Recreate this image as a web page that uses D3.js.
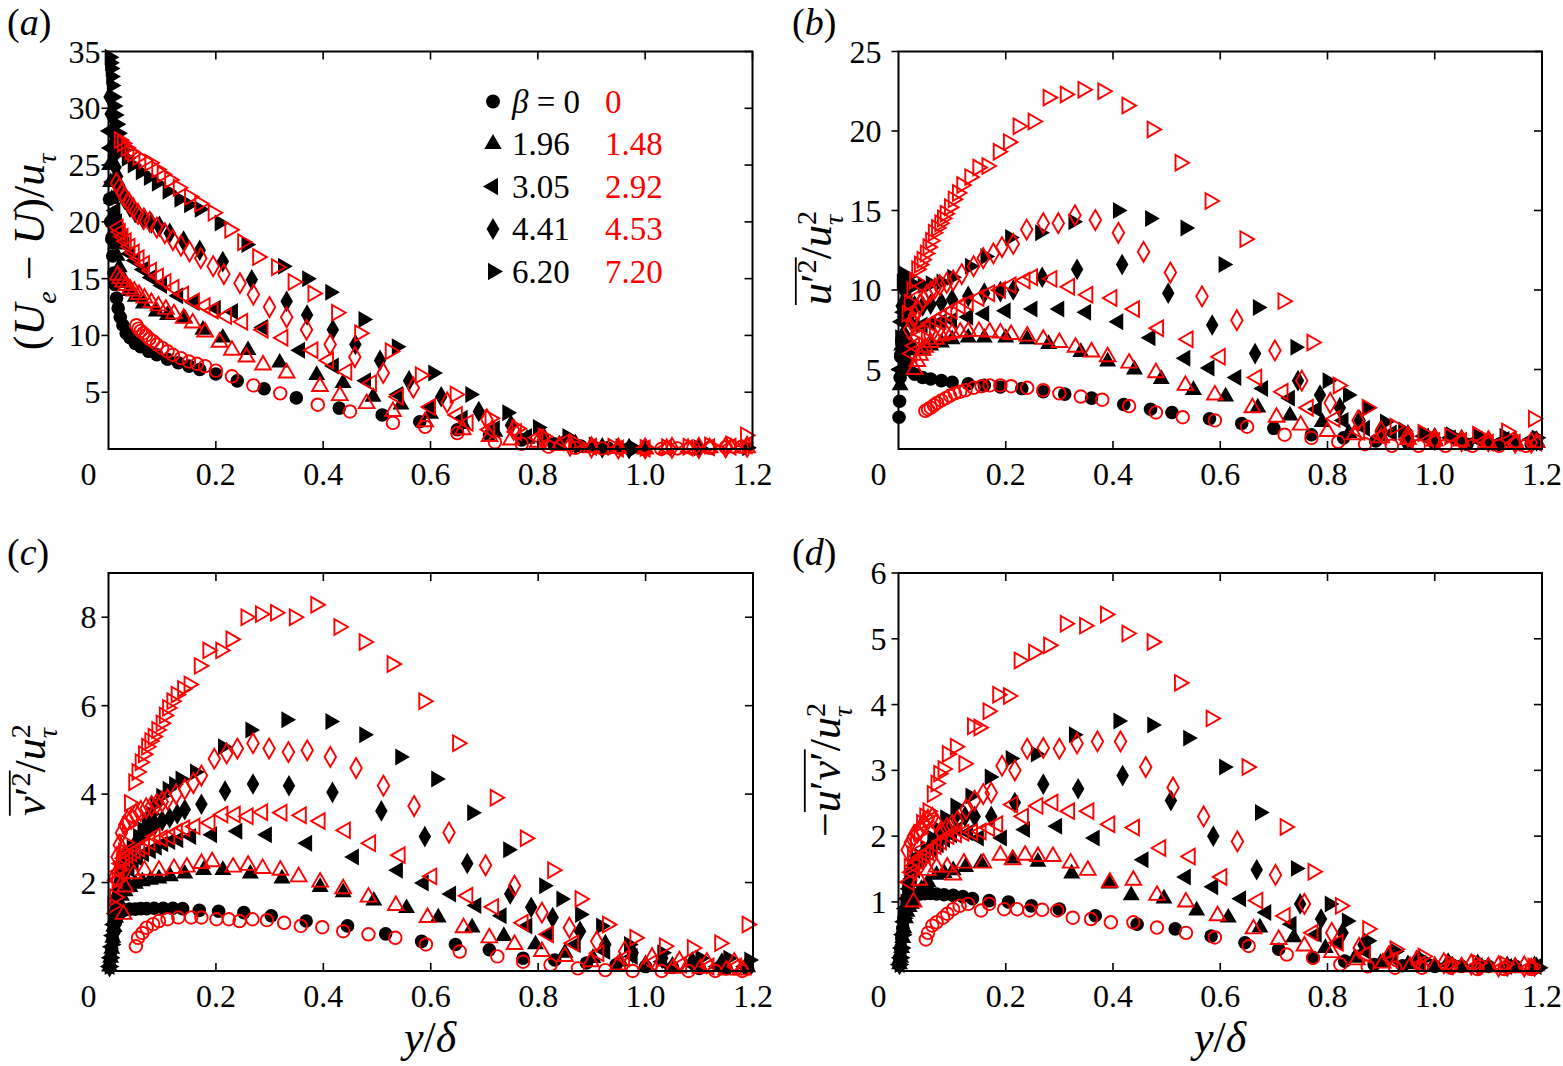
<!DOCTYPE html>
<html>
<head>
<meta charset="utf-8">
<script src="https://cdn.jsdelivr.net/npm/d3@7"></script>
<style>
  body { margin: 0; background: #fff; }
  svg { display: block; }
</style>
</head>
<body>
<svg id="fig" width="1563" height="1066" font-family="'Liberation Serif', 'Times New Roman', serif"></svg>
<script>
// ---------- data: y/delta (x) and the quantity (y) ----------
// k = black filled symbols (beta = 0, 1.96, 3.05, 4.41, 6.20)
// r = red open symbols   (beta = 0, 1.48, 2.92, 4.53, 7.20)

// (a) (Ue - U)/u_tau
const a_k0_x = [0.002,0.004,0.006,0.008,0.010,0.012,0.015,0.018,0.022,0.027,0.033,0.04,0.05,0.06,0.075,0.09,0.11,0.13,0.15,0.17,0.2,0.24,0.29,0.35,0.43,0.51,0.58,0.65,0.71,0.77,0.83,0.88,0.93,0.97,1.0];
const a_k0_y = [22,20,18.5,17,15.5,14.5,13.3,12.4,11.6,10.9,10.2,9.8,9.3,9.0,8.6,8.3,7.9,7.6,7.3,7.0,6.6,6.0,5.3,4.5,3.6,3.0,2.4,1.7,1.2,0.8,0.45,0.25,0.1,0.05,0.02];
const a_r0_x = [0.052,0.056,0.06,0.065,0.07,0.076,0.083,0.09,0.1,0.11,0.12,0.135,0.15,0.165,0.18,0.2,0.23,0.27,0.32,0.39,0.45,0.53,0.59,0.65,0.72,0.77,0.82,0.87,0.92,1.0,1.03,1.06,1.09,1.12,1.15,1.18];
const a_r0_y = [10.9,10.6,10.4,10.2,10.0,9.7,9.5,9.2,8.9,8.6,8.3,8.0,7.7,7.5,7.3,6.9,6.4,5.6,4.9,3.9,3.3,2.3,1.95,1.4,0.6,0.45,0.2,0.1,0.05,0,0,0.05,0.1,0.1,0.15,0.2];
const a_k1_x = [0.002,0.004,0.006,0.008,0.01,0.013,0.016,0.02,0.025,0.03,0.04,0.05,0.065,0.089,0.11,0.142,0.176,0.213,0.26,0.319,0.388,0.437,0.493,0.545,0.6,0.66,0.72,0.78,0.84,0.9,0.95,1.0];
const a_k1_y = [25,23.5,22,20.5,19.2,18,17,16,15.2,14.6,13.9,13.4,12.8,12.1,11.8,11.5,10.5,9.8,8.7,7.6,6.5,5.8,4.6,3.9,3.1,2.2,1.5,0.9,0.4,0.15,0.05,0.02];
const a_r1_x = [0.017,0.022,0.027,0.033,0.04,0.048,0.057,0.067,0.08,0.093,0.107,0.122,0.14,0.157,0.18,0.207,0.23,0.257,0.288,0.332,0.394,0.431,0.481,0.53,0.59,0.66,0.71,0.75,0.8,0.84,0.9,0.95,1.0,1.04,1.08,1.12,1.16,1.19];
const a_r1_y = [15.3,15.0,14.7,14.4,14.1,13.9,13.6,13.3,12.9,12.6,12.3,11.9,11.5,11.1,10.3,9.4,8.7,8.1,7.4,6.7,5.5,4.7,4.0,3.3,2.4,1.7,1.1,0.8,0.6,0.3,0.1,0.05,0,0.05,0.05,0.1,0.1,0.1];
const a_k2_x = [0.002,0.004,0.006,0.008,0.01,0.013,0.016,0.02,0.025,0.03,0.04,0.05,0.065,0.08,0.1,0.13,0.16,0.2,0.232,0.288,0.357,0.42,0.48,0.54,0.6,0.66,0.72,0.78,0.84,0.9,0.95,1.0];
const a_k2_y = [28,26.5,25,23.5,22.3,21,20,19.2,18.5,18,17.2,16.6,15.8,15.1,14.4,13.5,12.9,12.4,12.1,10.7,8.7,7.3,6.0,4.8,3.7,2.7,1.8,1.1,0.5,0.2,0.05,0.02];
const a_r2_x = [0.018,0.022,0.027,0.033,0.04,0.048,0.057,0.067,0.08,0.093,0.107,0.122,0.14,0.16,0.18,0.195,0.22,0.25,0.288,0.325,0.381,0.41,0.444,0.49,0.54,0.6,0.65,0.67,0.71,0.76,0.8,0.85,0.9,0.95,1.0,1.04,1.08,1.12,1.16,1.19];
const a_r2_y = [19.5,19.1,18.7,18.3,17.8,17.3,16.8,16.3,15.7,15.2,14.7,14.2,13.6,13.0,12.6,12.2,11.7,11.2,10.5,9.8,8.7,7.8,6.8,5.8,4.6,3.7,3.0,2.3,1.7,1.5,1.0,0.6,0.2,0.05,0.05,0.1,0.1,0.15,0.2,0.3];
const a_k3_x = [0.002,0.004,0.006,0.008,0.01,0.013,0.016,0.02,0.025,0.03,0.04,0.05,0.065,0.08,0.095,0.114,0.14,0.17,0.213,0.267,0.332,0.37,0.418,0.46,0.506,0.56,0.62,0.69,0.75,0.81,0.87,0.92,0.97,1.1];
const a_k3_y = [31,29.5,28,26.8,25.8,24.8,24,23.2,22.6,22,21.3,20.8,20.2,19.9,19.6,19.0,18.3,17.5,16.5,14.9,13.0,11.8,10.5,9.2,7.8,6.0,4.6,3.3,2.1,1.1,0.4,0.1,0.03,0.05];
const a_r3_x = [0.015,0.02,0.025,0.03,0.038,0.046,0.055,0.066,0.077,0.09,0.105,0.12,0.135,0.151,0.172,0.195,0.215,0.245,0.27,0.3,0.332,0.369,0.413,0.459,0.512,0.568,0.631,0.705,0.755,0.81,0.86,0.9,0.95,1.0,1.05,1.1,1.15,1.19];
const a_r3_y = [23.4,23.0,22.6,22.2,21.7,21.2,20.7,20.3,20.0,19.5,19.0,18.4,17.9,17.4,16.8,16.1,15.4,14.6,13.6,12.5,11.6,10.5,9.2,8.1,6.7,5.4,4.1,2.6,1.7,0.8,0.3,0.15,0.05,0.05,0.1,0.1,0.15,0.2];
const a_k4_x = [0.002,0.003,0.004,0.005,0.006,0.008,0.01,0.012,0.015,0.018,0.022,0.027,0.034,0.045,0.06,0.075,0.09,0.11,0.132,0.15,0.17,0.207,0.257,0.325,0.37,0.413,0.475,0.537,0.605,0.674,0.743,0.8,0.855,0.904,0.954,0.98,1.1,1.19];
const a_k4_y = [34.5,34,33.5,32.8,32,31,30.2,29.4,28.6,27.8,27.0,26.3,25.6,25.0,24.4,23.9,23.4,22.7,22.0,21.5,21.1,19.9,18.0,16.1,15.0,13.8,11.4,9.0,6.7,4.8,3.2,1.9,1.1,0.35,0.2,0.05,0.1,0.1];
const a_r4_x = [0.02,0.026,0.033,0.04,0.045,0.055,0.066,0.077,0.09,0.1,0.114,0.13,0.151,0.17,0.195,0.226,0.25,0.278,0.313,0.344,0.381,0.425,0.468,0.525,0.581,0.646,0.711,0.761,0.81,0.87,0.94,1.0,1.04,1.08,1.12,1.16,1.187];
const a_r4_y = [27.2,26.9,26.5,26.2,26.0,25.7,25.4,25.2,24.6,24.2,23.7,23.0,22.2,21.6,20.8,19.3,18.2,16.9,16.0,14.7,13.7,12.0,10.2,8.6,6.5,4.8,2.7,1.8,1.1,0.5,0.2,0.1,0.15,0.2,0.3,0.4,1.2];

// (b) u'^2 / u_tau^2
const b_k0_x = [0.001,0.002,0.003,0.004,0.006,0.008,0.011,0.015,0.02,0.03,0.045,0.06,0.08,0.1,0.13,0.16,0.19,0.23,0.27,0.31,0.36,0.42,0.47,0.51,0.58,0.64,0.7,0.77,0.83,0.89,0.95,1.0,1.06,1.12,1.18];
const b_k0_y = [2.0,3.0,4.5,5.8,6.8,6.5,6.0,5.5,5.0,4.7,4.5,4.4,4.3,4.2,4.1,4.0,3.9,3.8,3.6,3.45,3.2,2.8,2.5,2.3,1.9,1.6,1.3,0.9,0.7,0.5,0.4,0.35,0.3,0.3,0.3];
const b_r0_x = [0.05,0.055,0.06,0.066,0.072,0.08,0.088,0.096,0.105,0.115,0.125,0.14,0.155,0.17,0.19,0.21,0.24,0.27,0.3,0.34,0.38,0.43,0.48,0.53,0.59,0.65,0.72,0.77,0.82,0.87,0.92,0.97,1.02,1.07,1.12,1.17];
const b_r0_y = [2.4,2.5,2.6,2.75,2.9,3.05,3.2,3.35,3.5,3.6,3.7,3.85,3.95,4.0,4.0,3.95,3.85,3.7,3.5,3.3,3.1,2.7,2.3,2.0,1.8,1.4,0.9,0.7,0.45,0.3,0.2,0.2,0.2,0.2,0.2,0.2];
const b_k1_x = [0.003,0.006,0.01,0.015,0.02,0.03,0.045,0.06,0.08,0.1,0.13,0.16,0.2,0.24,0.28,0.34,0.39,0.44,0.49,0.55,0.61,0.67,0.73,0.79,0.84,0.9,0.95,1.0,1.05,1.1,1.15,1.19];
const b_k1_y = [4,6.5,7.3,7.0,6.5,6.2,6.3,6.5,6.7,6.9,7.0,7.0,7.0,6.9,6.6,6.1,5.5,5.0,4.4,3.7,3.3,2.6,2.1,1.7,1.0,0.8,0.7,0.6,0.55,0.5,0.5,0.5];
const b_r1_x = [0.03,0.035,0.04,0.045,0.05,0.06,0.07,0.08,0.09,0.1,0.115,0.13,0.15,0.17,0.19,0.21,0.24,0.27,0.3,0.33,0.36,0.39,0.43,0.48,0.535,0.59,0.66,0.705,0.75,0.8,0.85,0.9,0.95,1.0,1.05,1.1,1.15,1.19];
const b_r1_y = [5.0,5.5,5.9,6.2,6.4,6.7,6.9,7.1,7.2,7.3,7.35,7.4,7.4,7.35,7.3,7.2,7.1,6.9,6.7,6.4,6.1,5.8,5.4,4.8,4.0,3.4,2.6,2.0,1.5,1.1,0.9,0.7,0.6,0.5,0.5,0.4,0.4,0.4];
const b_k2_x = [0.003,0.006,0.01,0.015,0.02,0.03,0.045,0.06,0.08,0.1,0.13,0.16,0.2,0.25,0.3,0.35,0.41,0.47,0.535,0.58,0.63,0.68,0.73,0.78,0.83,0.87,0.92,0.98,1.03,1.08,1.13,1.18];
const b_k2_y = [5,8,8.6,8.3,8.0,7.8,7.8,7.9,8.0,8.1,8.3,8.5,8.7,8.8,8.8,8.6,8.0,7.0,5.7,5.1,4.5,3.8,3.2,2.5,1.8,1.3,1.0,0.8,0.7,0.6,0.6,0.6];
const b_r2_x = [0.025,0.03,0.035,0.04,0.05,0.06,0.07,0.08,0.09,0.1,0.115,0.13,0.15,0.17,0.19,0.21,0.236,0.25,0.286,0.319,0.353,0.398,0.44,0.485,0.54,0.6,0.668,0.717,0.764,0.814,0.86,0.9,0.95,1.0,1.05,1.1,1.15,1.19];
const b_r2_y = [6.0,6.5,7.0,7.3,7.6,7.9,8.1,8.3,8.5,8.7,9.0,9.2,9.5,9.8,10.0,10.3,10.6,10.8,10.7,10.2,9.7,9.5,8.8,7.6,6.9,5.8,4.5,3.6,2.6,1.9,1.1,0.8,0.6,0.5,0.5,0.4,0.4,0.4];
const b_k3_x = [0.003,0.006,0.01,0.015,0.02,0.03,0.045,0.06,0.08,0.1,0.13,0.16,0.19,0.214,0.268,0.333,0.417,0.503,0.585,0.665,0.745,0.786,0.823,0.86,0.9,0.95,1.0,1.05,1.1,1.15,1.19];
const b_k3_y = [6,9,10,9.6,9.2,9.0,9.0,9.1,9.2,9.4,9.6,9.8,9.9,10.0,10.8,11.3,11.6,9.8,7.8,6.0,4.3,3.4,2.6,1.8,1.2,0.9,0.7,0.6,0.5,0.5,0.5];
const b_r3_x = [0.02,0.025,0.03,0.035,0.04,0.046,0.053,0.06,0.068,0.077,0.09,0.102,0.118,0.14,0.158,0.177,0.193,0.214,0.239,0.27,0.298,0.329,0.367,0.41,0.457,0.507,0.566,0.631,0.702,0.752,0.805,0.857,0.9,0.95,1.0,1.05,1.1,1.15,1.18];
const b_r3_y = [7.5,8.0,8.4,8.8,9.1,9.4,9.7,9.9,10.1,10.3,10.45,10.6,11.0,11.5,12.0,12.3,12.7,12.9,13.8,14.2,14.2,14.7,14.4,13.6,12.4,11.1,9.6,8.1,6.2,4.3,2.9,1.8,1.1,0.8,0.6,0.5,0.5,0.4,0.4];
const b_k4_x = [0.003,0.006,0.01,0.015,0.02,0.03,0.045,0.06,0.08,0.1,0.133,0.162,0.208,0.264,0.326,0.409,0.469,0.535,0.606,0.67,0.74,0.8,0.838,0.874,0.907,0.941,0.98,1.03,1.08,1.13,1.19];
const b_k4_y = [7,10.5,11.0,10.8,10.5,10.3,10.3,10.4,10.5,10.8,11.5,12.1,13.3,13.6,14.3,15.0,14.5,13.9,11.6,8.9,6.4,4.3,3.4,2.6,1.7,1.2,1.0,0.9,0.8,0.8,0.7];
const b_r4_x = [0.016,0.02,0.025,0.03,0.034,0.039,0.044,0.05,0.055,0.06,0.065,0.071,0.077,0.082,0.087,0.095,0.102,0.11,0.118,0.133,0.148,0.165,0.186,0.205,0.223,0.251,0.279,0.311,0.344,0.381,0.426,0.473,0.525,0.581,0.646,0.717,0.771,0.82,0.874,0.926,0.978,1.028,1.08,1.134,1.184];
const b_r4_y = [8.5,9.2,10.0,10.6,11.3,11.6,11.9,12.3,12.7,13.1,13.6,13.9,14.2,14.5,14.8,15.2,15.7,16.1,16.6,17.1,17.7,17.8,18.7,19.3,20.3,20.6,22.1,22.3,22.6,22.5,21.6,20.1,18.0,15.6,13.2,9.3,6.7,4.0,2.6,1.4,1.0,0.8,0.9,1.1,1.9];

// (c) v'^2 / u_tau^2
const c_k0_x = [0.002,0.004,0.006,0.008,0.01,0.013,0.016,0.02,0.025,0.03,0.039,0.05,0.06,0.071,0.085,0.102,0.12,0.138,0.169,0.205,0.252,0.303,0.368,0.445,0.516,0.583,0.646,0.709,0.772,0.831,0.89,0.945,1.0,1.05,1.1,1.15,1.19];
const c_k0_y = [0.1,0.3,0.5,0.7,0.9,1.1,1.22,1.3,1.35,1.38,1.4,1.4,1.41,1.41,1.42,1.42,1.42,1.41,1.37,1.35,1.32,1.25,1.13,1.02,0.84,0.67,0.6,0.48,0.29,0.25,0.18,0.14,0.1,0.08,0.06,0.05,0.05];
const c_r0_x = [0.051,0.055,0.063,0.071,0.083,0.094,0.11,0.13,0.154,0.173,0.201,0.224,0.244,0.268,0.295,0.327,0.358,0.398,0.437,0.484,0.534,0.591,0.654,0.724,0.772,0.823,0.874,0.925,0.976,1.03,1.08,1.13,1.18];
const c_r0_y = [0.56,0.75,0.86,0.98,1.06,1.13,1.17,1.21,1.21,1.21,1.17,1.17,1.13,1.17,1.15,1.09,1.02,0.99,0.9,0.83,0.75,0.6,0.44,0.33,0.21,0.14,0.06,0.02,0,0,0,0,0];
const c_k1_x = [0.002,0.004,0.006,0.008,0.01,0.013,0.016,0.02,0.024,0.031,0.04,0.05,0.063,0.078,0.094,0.115,0.142,0.177,0.213,0.264,0.323,0.394,0.437,0.494,0.555,0.614,0.677,0.736,0.795,0.85,0.902,0.953,1.0,1.05,1.1,1.15,1.19];
const c_k1_y = [0.1,0.3,0.5,0.75,1.0,1.2,1.4,1.55,1.7,1.8,1.9,1.97,2.03,2.06,2.09,2.14,2.2,2.28,2.28,2.2,2.09,1.9,1.78,1.59,1.42,1.21,0.98,0.79,0.6,0.41,0.29,0.21,0.15,0.12,0.1,0.08,0.08];
const c_r1_x = [0.028,0.031,0.047,0.067,0.094,0.122,0.146,0.173,0.193,0.232,0.26,0.287,0.32,0.354,0.394,0.437,0.484,0.535,0.594,0.661,0.709,0.756,0.807,0.85,0.898,0.949,1.0,1.051,1.102,1.15,1.181];
const c_r1_y = [1.28,1.9,2.2,2.28,2.28,2.32,2.35,2.43,2.47,2.35,2.39,2.32,2.28,2.13,2.01,1.86,1.67,1.48,1.21,0.98,0.75,0.6,0.44,0.33,0.21,0.14,0.1,0.06,0.06,0.02,0.02];
const c_k2_x = [0.002,0.004,0.006,0.008,0.01,0.013,0.016,0.02,0.025,0.031,0.039,0.047,0.055,0.066,0.079,0.09,0.102,0.115,0.13,0.154,0.193,0.24,0.295,0.37,0.457,0.539,0.587,0.638,0.685,0.732,0.78,0.819,0.87,0.925,0.976,1.031,1.087,1.134,1.185];
const c_k2_y = [0.1,0.3,0.55,0.8,1.05,1.3,1.5,1.7,1.9,2.1,2.3,2.45,2.55,2.65,2.72,2.8,2.88,2.93,2.97,3.04,3.08,3.16,3.08,2.89,2.58,2.28,1.99,1.74,1.48,1.25,1.02,0.83,0.6,0.44,0.33,0.21,0.14,0.1,0.1];
const c_r2_x = [0.016,0.02,0.024,0.03,0.036,0.043,0.05,0.058,0.067,0.077,0.087,0.1,0.114,0.128,0.142,0.161,0.189,0.213,0.236,0.26,0.287,0.323,0.359,0.394,0.441,0.488,0.543,0.602,0.669,0.717,0.772,0.819,0.866,0.913,0.961,1.012,1.067,1.118,1.169];
const c_r2_y = [2.05,2.25,2.43,2.55,2.62,2.66,2.72,2.77,2.81,2.92,3.04,3.0,3.04,3.15,3.23,3.27,3.35,3.54,3.54,3.5,3.59,3.58,3.52,3.39,3.18,2.89,2.62,2.14,1.7,1.45,1.09,0.83,0.63,0.4,0.29,0.18,0.14,0.1,0.1];
const c_k3_x = [0.002,0.004,0.006,0.008,0.01,0.013,0.016,0.02,0.025,0.031,0.039,0.047,0.055,0.063,0.075,0.087,0.1,0.114,0.128,0.142,0.173,0.217,0.269,0.336,0.417,0.508,0.589,0.668,0.748,0.787,0.827,0.878,0.925,0.976,1.031,1.087,1.142,1.189];
const c_k3_y = [0.1,0.3,0.55,0.8,1.1,1.4,1.7,2.0,2.3,2.5,2.7,2.81,2.95,3.08,3.2,3.31,3.4,3.46,3.55,3.65,3.77,4.07,4.23,4.19,4.04,3.62,3.04,2.43,1.74,1.44,1.21,0.9,0.6,0.41,0.29,0.21,0.18,0.14];
const c_r3_x = [0.012,0.016,0.02,0.024,0.03,0.035,0.043,0.051,0.06,0.07,0.08,0.09,0.1,0.11,0.126,0.142,0.158,0.173,0.197,0.22,0.24,0.269,0.299,0.335,0.37,0.413,0.461,0.512,0.569,0.634,0.702,0.756,0.807,0.858,0.909,0.961,1.012,1.063,1.114,1.165];
const c_r3_y = [2.13,2.58,2.85,3.12,3.3,3.4,3.45,3.55,3.62,3.68,3.73,3.78,3.83,3.88,4.0,4.11,4.25,4.42,4.8,4.92,5.03,5.15,5.03,4.95,4.99,4.84,4.59,4.19,3.73,3.13,2.39,1.93,1.32,0.98,0.67,0.44,0.29,0.21,0.18,0.18];
const c_k4_x = [0.002,0.004,0.006,0.008,0.01,0.013,0.016,0.02,0.025,0.031,0.037,0.043,0.055,0.063,0.071,0.079,0.087,0.098,0.11,0.122,0.134,0.161,0.213,0.264,0.331,0.413,0.476,0.543,0.61,0.677,0.744,0.811,0.843,0.878,0.917,0.969,1.031,1.102,1.154,1.193];
const c_k4_y = [0.1,0.3,0.6,0.9,1.2,1.5,1.8,2.1,2.35,2.55,2.68,2.78,3.04,3.2,3.39,3.55,3.77,3.95,4.11,4.22,4.34,4.5,5.07,5.45,5.68,5.64,5.34,4.84,4.34,3.58,2.74,1.93,1.63,1.28,1.02,0.6,0.41,0.29,0.29,0.25];
const c_r4_x = [0.008,0.012,0.016,0.02,0.024,0.028,0.031,0.035,0.039,0.047,0.053,0.059,0.065,0.071,0.077,0.083,0.09,0.098,0.104,0.11,0.118,0.126,0.138,0.15,0.169,0.185,0.209,0.228,0.256,0.283,0.311,0.346,0.386,0.429,0.476,0.528,0.587,0.65,0.72,0.776,0.827,0.878,0.929,0.98,1.035,1.087,1.138,1.189];
const c_r4_y = [1.48,1.67,2.05,2.3,2.47,2.7,2.9,3.3,3.8,4.27,4.5,4.72,4.9,5.07,5.2,5.3,5.45,5.6,5.78,5.95,6.1,6.25,6.38,6.48,6.9,7.25,7.25,7.5,8.0,8.07,8.1,8.0,8.28,7.78,7.44,6.94,6.1,5.15,3.92,3.0,2.28,1.63,1.05,0.75,0.56,0.52,0.63,1.05];

// (d) -u'v' / u_tau^2
const d_k0_x = [0.001,0.002,0.004,0.006,0.008,0.01,0.013,0.016,0.02,0.025,0.03,0.039,0.05,0.06,0.071,0.085,0.102,0.12,0.138,0.169,0.205,0.248,0.3,0.367,0.445,0.516,0.583,0.646,0.709,0.773,0.832,0.887,0.94,1.0,1.05,1.1,1.15,1.19];
const d_k0_y = [0.05,0.15,0.3,0.45,0.6,0.75,0.88,0.97,1.03,1.07,1.1,1.12,1.13,1.13,1.12,1.11,1.1,1.08,1.05,1.02,1.0,0.94,0.89,0.79,0.66,0.59,0.48,0.38,0.28,0.15,0.1,0.05,0.03,0.02,0.02,0.02,0.02,0.02];
const d_r0_x = [0.051,0.055,0.063,0.071,0.083,0.091,0.102,0.114,0.13,0.154,0.169,0.197,0.221,0.244,0.268,0.296,0.325,0.359,0.396,0.438,0.482,0.536,0.59,0.653,0.724,0.773,0.824,0.875,0.926,0.976,1.03,1.08,1.13,1.18];
const d_r0_y = [0.43,0.53,0.64,0.69,0.76,0.82,0.89,0.94,0.97,0.87,0.97,0.89,0.89,0.87,0.88,0.87,0.76,0.74,0.69,0.69,0.61,0.53,0.46,0.33,0.2,0.15,0.05,0.02,0,0,0,-0.02,-0.02,-0.02];
const d_k1_x = [0.002,0.004,0.006,0.008,0.01,0.013,0.016,0.02,0.024,0.028,0.035,0.043,0.055,0.071,0.085,0.102,0.125,0.154,0.213,0.26,0.323,0.393,0.434,0.495,0.556,0.615,0.674,0.737,0.796,0.851,0.899,0.95,1.0,1.05,1.1,1.15,1.19];
const d_k1_y = [0.05,0.15,0.3,0.45,0.6,0.75,0.85,0.92,0.97,1.0,1.1,1.2,1.3,1.41,1.44,1.48,1.53,1.59,1.66,1.61,1.43,1.28,1.1,1.05,0.87,0.76,0.61,0.46,0.3,0.15,0.07,0.05,0.03,0.02,0.02,0.02,0.02];
const d_r1_x = [0.028,0.039,0.055,0.071,0.091,0.102,0.122,0.158,0.19,0.213,0.236,0.26,0.288,0.321,0.353,0.394,0.438,0.482,0.536,0.595,0.662,0.709,0.757,0.808,0.855,0.903,0.954,1.0,1.05,1.1,1.15,1.18];
const d_r1_y = [1.0,1.33,1.48,1.53,1.53,1.41,1.59,1.59,1.71,1.64,1.71,1.69,1.69,1.59,1.48,1.3,1.33,1.1,1.0,0.79,0.59,0.43,0.33,0.23,0.12,0.07,0.02,0.02,0.01,0.01,0,0];
const d_k2_x = [0.002,0.004,0.006,0.008,0.01,0.013,0.016,0.02,0.025,0.031,0.039,0.05,0.063,0.075,0.087,0.1,0.11,0.13,0.15,0.193,0.236,0.296,0.366,0.457,0.536,0.587,0.639,0.686,0.733,0.78,0.82,0.871,0.922,0.974,1.025,1.08,1.135,1.19];
const d_k2_y = [0.05,0.15,0.3,0.5,0.7,0.9,1.05,1.2,1.35,1.48,1.64,1.72,1.79,1.87,1.95,2.02,2.1,2.05,1.97,1.97,2.1,2.15,1.97,1.64,1.38,1.23,1.05,0.84,0.66,0.51,0.38,0.25,0.15,0.07,0.05,0.03,0.02,0.02];
const d_r2_x = [0.02,0.025,0.03,0.036,0.043,0.05,0.056,0.063,0.07,0.08,0.094,0.108,0.122,0.138,0.154,0.17,0.185,0.213,0.233,0.26,0.288,0.319,0.355,0.394,0.44,0.489,0.544,0.603,0.67,0.721,0.773,0.82,0.871,0.922,0.974,1.025,1.076,1.127,1.178];
const d_r2_y = [1.3,1.45,1.55,1.62,1.68,1.72,1.76,1.79,1.85,1.92,2.0,2.03,2.05,2.06,2.07,2.12,2.18,2.48,2.3,2.46,2.51,2.38,2.38,2.18,2.13,1.82,1.69,1.38,1.02,0.79,0.53,0.38,0.2,0.12,0.05,0.02,0.02,0.01,0.01];
const d_k3_x = [0.002,0.004,0.006,0.008,0.01,0.013,0.016,0.02,0.025,0.031,0.039,0.047,0.059,0.07,0.079,0.09,0.106,0.124,0.142,0.173,0.217,0.27,0.335,0.418,0.508,0.587,0.668,0.749,0.788,0.828,0.867,0.918,0.97,1.025,1.08,1.135,1.186];
const d_k3_y = [0.05,0.15,0.3,0.5,0.7,0.9,1.07,1.25,1.4,1.52,1.64,1.72,1.84,1.93,2.0,2.15,2.3,2.3,2.3,2.3,2.51,2.79,2.72,2.92,2.54,2.0,1.49,0.97,0.74,0.53,0.35,0.2,0.12,0.07,0.05,0.02,0.02];
const d_r3_x = [0.016,0.022,0.028,0.035,0.041,0.047,0.055,0.063,0.071,0.079,0.09,0.1,0.11,0.126,0.142,0.158,0.173,0.193,0.217,0.24,0.27,0.3,0.333,0.371,0.414,0.461,0.512,0.569,0.632,0.703,0.757,0.808,0.859,0.914,0.966,1.017,1.068,1.119,1.167];
const d_r3_y = [1.79,1.9,2.0,2.05,2.1,2.2,2.25,2.28,2.2,2.07,2.12,2.17,2.23,2.41,2.54,2.64,2.66,3.07,3.0,3.33,3.34,3.33,3.41,3.44,3.44,3.05,2.74,2.3,1.92,1.41,0.97,0.53,0.3,0.17,0.1,0.07,0.05,0.02,0.02];
const d_k4_x = [0.002,0.004,0.006,0.008,0.01,0.013,0.016,0.02,0.025,0.031,0.039,0.05,0.063,0.075,0.087,0.106,0.134,0.17,0.209,0.256,0.327,0.41,0.473,0.54,0.607,0.674,0.741,0.804,0.836,0.875,0.926,0.978,1.033,1.088,1.143,1.194];
const d_k4_y = [0.05,0.15,0.3,0.5,0.75,1.0,1.2,1.4,1.55,1.65,1.69,1.8,1.97,2.1,2.28,2.46,2.61,2.9,3.18,3.25,3.54,3.75,3.69,3.49,3.05,2.36,1.51,0.97,0.71,0.41,0.25,0.12,0.07,0.05,0.02,0.0];
const d_r4_x = [0.02,0.026,0.032,0.038,0.043,0.049,0.055,0.063,0.07,0.075,0.083,0.091,0.106,0.122,0.138,0.15,0.167,0.185,0.205,0.225,0.252,0.28,0.311,0.347,0.386,0.426,0.473,0.524,0.583,0.65,0.721,0.773,0.824,0.875,0.926,0.978,1.029,1.08,1.131,1.183];
const d_r4_y = [1.53,1.72,1.9,2.05,2.2,2.3,2.38,2.64,2.8,2.95,3.02,3.25,3.36,3.1,3.67,3.65,3.9,4.15,4.13,4.67,4.79,4.9,5.23,5.2,5.37,5.08,4.95,4.33,3.79,3.05,2.14,1.46,0.94,0.59,0.28,0.17,0.07,0.07,0.05,0.02];

// legend and ticks
const shapes = ["circle", "up", "left", "diamond", "right"];
const betaBlack = ["0", "1.96", "3.05", "4.41", "6.20"];
const betaRed = ["0", "1.48", "2.92", "4.53", "7.20"];
const xTicks = [0.2, 0.4, 0.6, 0.8, 1.0, 1.2];

// ---------- layout ----------
const svg = d3.select("#fig");
const RED = "#ff0000";
const tickFont = 32;
const labelFont = 44;
const NB = "\u00A0"; // keeps spaces inside separate text pieces

const panels = [
  {id: "a", left: 108.5, right: 752.5, top: 51.5, bottom: 449, ydom: [0, 35], yticks: [5, 10, 15, 20, 25, 30, 35],
   gap: 8, letterX: 7, letterY: 35,
   k: [[a_k0_x, a_k0_y], [a_k1_x, a_k1_y], [a_k2_x, a_k2_y], [a_k3_x, a_k3_y], [a_k4_x, a_k4_y]],
   r: [[a_r0_x, a_r0_y], [a_r1_x, a_r1_y], [a_r2_x, a_r2_y], [a_r3_x, a_r3_y], [a_r4_x, a_r4_y]]},
  {id: "b", left: 898.5, right: 1542, top: 51.5, bottom: 449, ydom: [0, 25], yticks: [5, 10, 15, 20, 25],
   gap: 17, letterX: 792, letterY: 35,
   k: [[b_k0_x, b_k0_y], [b_k1_x, b_k1_y], [b_k2_x, b_k2_y], [b_k3_x, b_k3_y], [b_k4_x, b_k4_y]],
   r: [[b_r0_x, b_r0_y], [b_r1_x, b_r1_y], [b_r2_x, b_r2_y], [b_r3_x, b_r3_y], [b_r4_x, b_r4_y]]},
  {id: "c", left: 108.5, right: 753, top: 573, bottom: 971, ydom: [0, 9], yticks: [2, 4, 6, 8],
   gap: 12, letterX: 7, letterY: 565,
   k: [[c_k0_x, c_k0_y], [c_k1_x, c_k1_y], [c_k2_x, c_k2_y], [c_k3_x, c_k3_y], [c_k4_x, c_k4_y]],
   r: [[c_r0_x, c_r0_y], [c_r1_x, c_r1_y], [c_r2_x, c_r2_y], [c_r3_x, c_r3_y], [c_r4_x, c_r4_y]]},
  {id: "d", left: 898.5, right: 1542, top: 573, bottom: 971, ydom: [-0.05, 6], yticks: [1, 2, 3, 4, 5, 6],
   gap: 12, letterX: 792, letterY: 565,
   k: [[d_k0_x, d_k0_y], [d_k1_x, d_k1_y], [d_k2_x, d_k2_y], [d_k3_x, d_k3_y], [d_k4_x, d_k4_y]],
   r: [[d_r0_x, d_r0_y], [d_r1_x, d_r1_y], [d_r2_x, d_r2_y], [d_r3_x, d_r3_y], [d_r4_x, d_r4_y]]}
];

// marker path for a shape; triangles are rotated for left / right
const symType = {circle: d3.symbolCircle, up: d3.symbolTriangle, left: d3.symbolTriangle,
                 right: d3.symbolTriangle, diamond: d3.symbolDiamond};
const symSize = {circle: 145, up: 125, left: 125, right: 125, diamond: 135};
const symRot = {circle: 0, up: 0, left: -90, right: 90, diamond: 0};

function drawMarker(g, shape, x, y, filled, scale) {
  const s = symSize[shape] * (scale || 1) * (filled ? 1 : 0.85);
  g.append("path")
    .attr("d", d3.symbol(symType[shape], s)())
    .attr("transform", `translate(${x},${y}) rotate(${symRot[shape]})`)
    .attr("fill", filled ? "#000" : "none")
    .attr("stroke", filled ? "none" : RED)
    .attr("stroke-width", filled ? 0 : 1.9);
}

// text made of pieces (italic, sub, sup, stacked sup, overline), laid out left to right
function richText(parent, parts, fs) {
  const g = parent.append("g");
  let x = 0, lastStart = 0, lastEnd = 0;
  let ovStart = null, ovEnd = null;
  parts.forEach(p => {
    const small = p.sub || p.sup;
    const size = small ? fs * 0.64 : fs;
    const dy = p.sub ? fs * 0.28 : p.sup ? -fs * 0.33 : 0;
    const start = p.stack ? lastStart : x;
    const t = g.append("text")
      .attr("x", start).attr("y", dy)
      .attr("font-size", size)
      .attr("font-style", p.i ? "italic" : "normal")
      .attr("fill", p.color || "#000")
      .text(p.t.replace(/ /g, NB));
    const w = t.node().getComputedTextLength();
    const end = start + w;
    if (p.ov) {
      ovStart = ovStart === null ? start : Math.min(ovStart, start);
      ovEnd = ovEnd === null ? end : Math.max(ovEnd, end);
    }
    if (p.stack) { x = Math.max(lastEnd, end); }
    else { x = end; lastStart = start; lastEnd = end; }
  });
  if (ovStart !== null) {
    g.append("line").attr("x1", ovStart).attr("x2", ovEnd + 2)
      .attr("y1", -fs * 0.8).attr("y2", -fs * 0.8)
      .attr("stroke", "#000").attr("stroke-width", 1.8);
  }
  return {g: g, width: x};
}

// centre a rich text along its length; base = position of the baseline across it
function placeLabel(parts, fs, along, base, rotate) {
  const holder = svg.append("g");
  const rt = richText(holder, parts, fs);
  rt.g.attr("transform", `translate(${-rt.width / 2},0)`);
  holder.attr("transform", rotate ? `translate(${base},${along}) rotate(-90)` : `translate(${along},${base})`);
}

// ---------- panels ----------
panels.forEach(p => {
  const x = d3.scaleLinear().domain([0, 1.2]).range([p.left, p.right]);
  const y = d3.scaleLinear().domain(p.ydom).range([p.bottom, p.top]);
  const g = svg.append("g");

  // markers: black first, red on top
  const mg = g.append("g");
  p.k.forEach((s, i) => d3.zip(s[0], s[1]).forEach(d => drawMarker(mg, shapes[i], x(d[0]), y(d[1]), true)));
  p.r.forEach((s, i) => d3.zip(s[0], s[1]).forEach(d => drawMarker(mg, shapes[i], x(d[0]), y(d[1]), false)));

  // frame
  g.append("rect").attr("x", p.left).attr("y", p.top)
    .attr("width", p.right - p.left).attr("height", p.bottom - p.top)
    .attr("fill", "none").attr("stroke", "#000").attr("stroke-width", 2);

  // x ticks: inward on bottom and top
  const tk = 8;
  xTicks.forEach(v => {
    g.append("line").attr("x1", x(v)).attr("x2", x(v)).attr("y1", p.bottom).attr("y2", p.bottom - tk)
      .attr("stroke", "#000").attr("stroke-width", 1.6);
    g.append("line").attr("x1", x(v)).attr("x2", x(v)).attr("y1", p.top).attr("y2", p.top + tk)
      .attr("stroke", "#000").attr("stroke-width", 1.6);
    g.append("text").attr("x", x(v)).attr("y", p.bottom + 36).attr("text-anchor", "middle")
      .attr("font-size", tickFont).text(d3.format(".1f")(v));
  });
  g.append("text").attr("x", p.left - 20).attr("y", p.bottom + 36).attr("text-anchor", "middle")
    .attr("font-size", tickFont).text("0");

  // y ticks: outward on the left, inward on the right
  p.yticks.forEach(v => {
    g.append("line").attr("x1", p.left).attr("x2", p.left - 7).attr("y1", y(v)).attr("y2", y(v))
      .attr("stroke", "#000").attr("stroke-width", 1.6);
    g.append("line").attr("x1", p.right).attr("x2", p.right - tk).attr("y1", y(v)).attr("y2", y(v))
      .attr("stroke", "#000").attr("stroke-width", 1.6);
    g.append("text").attr("x", p.left - p.gap).attr("y", y(v) + 11).attr("text-anchor", "end")
      .attr("font-size", tickFont).text(v);
  });

  // panel letter
  const lab = svg.append("text").attr("x", p.letterX).attr("y", p.letterY).attr("font-size", 38);
  lab.append("tspan").text("(");
  lab.append("tspan").attr("font-style", "italic").text(p.id);
  lab.append("tspan").text(")");
});

// ---------- axis titles ----------
placeLabel([{t: "("}, {t: "U", i: true}, {t: "e", i: true, sub: true}, {t: " − "}, {t: "U", i: true},
            {t: ")/"}, {t: "u", i: true}, {t: "τ", i: true, sub: true}], labelFont, 252, 44, true);
placeLabel([{t: "u", i: true, ov: true}, {t: "′", ov: true}, {t: "2", sup: true, ov: true},
            {t: "/"}, {t: "u", i: true}, {t: "τ", i: true, sub: true}, {t: "2", sup: true, stack: true}],
           labelFont, 258, 831, true);
placeLabel([{t: "v", i: true, ov: true}, {t: "′", ov: true}, {t: "2", sup: true, ov: true},
            {t: "/"}, {t: "u", i: true}, {t: "τ", i: true, sub: true}, {t: "2", sup: true, stack: true}],
           labelFont, 770, 45, true);
placeLabel([{t: "−"}, {t: "u", i: true, ov: true}, {t: "′", ov: true}, {t: "v", i: true, ov: true}, {t: "′", ov: true},
            {t: "/"}, {t: "u", i: true}, {t: "τ", i: true, sub: true}, {t: "2", sup: true, stack: true}],
           labelFont, 770, 840, true);
placeLabel([{t: "y", i: true}, {t: "/"}, {t: "δ", i: true}], labelFont, 430, 1052, false);
placeLabel([{t: "y", i: true}, {t: "/"}, {t: "δ", i: true}], labelFont, 1220, 1052, false);

// ---------- legend in (a) ----------
const legY = d3.scalePoint().domain(d3.range(5)).range([101.5, 271.5]);
const leg = svg.append("g");
shapes.forEach((s, i) => {
  drawMarker(leg, s, 493, legY(i), true, 1.05);
  const row = leg.append("g").attr("transform", `translate(512,${legY(i) + 11})`);
  const parts = i === 0 ? [{t: "β", i: true}, {t: " = " + betaBlack[i]}] : [{t: betaBlack[i]}];
  richText(row, parts, 33);
  leg.append("text").attr("x", 605).attr("y", legY(i) + 11).attr("font-size", 33)
    .attr("fill", RED).text(betaRed[i]);
});
</script>
</body>
</html>
